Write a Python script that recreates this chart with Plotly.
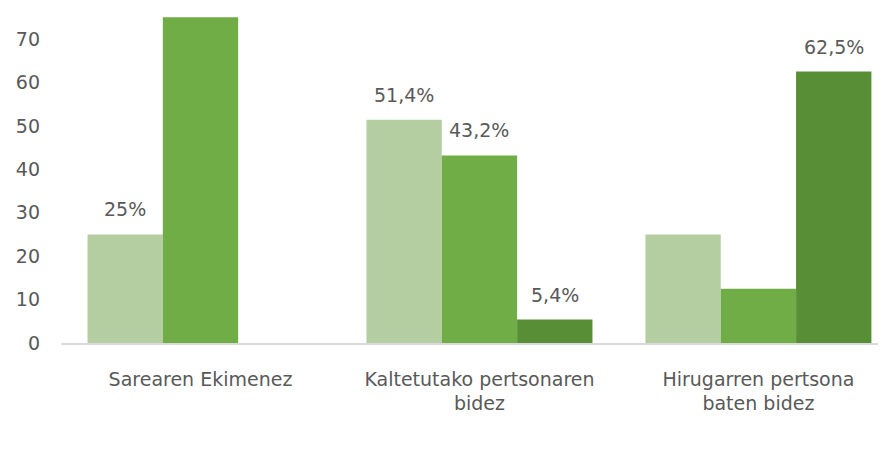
import plotly.graph_objects as go

categories = ["Sarearen Ekimenez", "Kaltetutako pertsonaren<br>bidez", "Hirugarren pertsona<br>baten bidez"]
series_names = ["A", "B", "C"]
series_a = [25, 51.4, 25]
series_b = [75, 43.2, 12.5]
series_c = [0, 5.4, 62.5]
labels_a = ["25%", "51,4%", ""]
labels_b = ["", "43,2%", ""]
labels_c = ["", "5,4%", "62,5%"]
colors = ["#b4cea2", "#70ad47", "#578e36"]
tick_vals = [0, 10, 20, 30, 40, 50, 60, 70]

FONT = "'DejaVu Sans', sans-serif"
GRAY = "#595959"

fig = go.Figure()
x_idx = list(range(len(categories)))
all_series = [series_a, series_b, series_c]
all_labels = [labels_a, labels_b, labels_c]
bargap = 0.19
n = len(all_series)
bw = (1 - bargap) / n
for j, (vals, col) in enumerate(zip(all_series, colors)):
    fig.add_trace(go.Bar(x=x_idx, y=vals, name=series_names[j], marker_color=col,
                         marker_line_width=0, showlegend=False))
annotations = []
for j, (vals, labs) in enumerate(zip(all_series, all_labels)):
    off = -(1 - bargap) / 2 + bw * (j + 0.5)
    for i, (v, t) in enumerate(zip(vals, labs)):
        if t:
            annotations.append(dict(x=i + off, y=v, text=t, showarrow=False, xref="x", yref="y",
                                    yshift=25, yanchor="middle",
                                    font=dict(family=FONT, size=19, color=GRAY)))

fig.update_layout(
    width=886, height=454,
    margin=dict(l=53, r=0, t=8, b=119),
    paper_bgcolor="white", plot_bgcolor="white",
    barmode="group", bargap=bargap, bargroupgap=0,
    annotations=annotations,
    showlegend=False,
)
fig.update_xaxes(range=[-0.5, 2.486], tickvals=x_idx, ticktext=categories,
                 showline=True, linecolor="#d9d9d9", linewidth=1.5, ticks="",
                 showgrid=False, zeroline=False, ticklabelstandoff=18,
                 tickfont=dict(family=FONT, size=19, color=GRAY))
fig.update_yaxes(range=[0, 75.3], tickvals=tick_vals, showgrid=False, zeroline=False,
                 showline=False, ticks="", ticklabelstandoff=20,
                 tickfont=dict(family=FONT, size=19, color=GRAY))

fig.write_html("out.html")
